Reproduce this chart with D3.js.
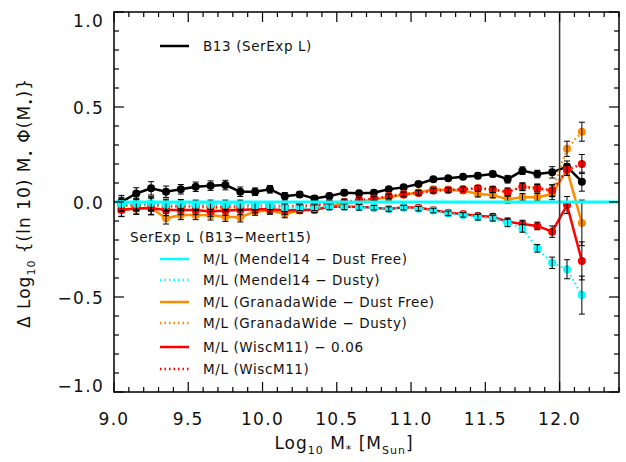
<!DOCTYPE html>
<html>
<head>
<meta charset="utf-8">
<script src="https://cdn.jsdelivr.net/npm/d3@7"></script>
<style>
  body { margin: 0; background: #fff; }
  svg text { font-family: "DejaVu Sans", sans-serif; fill: #111; }
</style>
</head>
<body>
<div id="container"></div>
<script>
const massBins = [9.05, 9.15, 9.25, 9.35, 9.45, 9.55, 9.65, 9.75, 9.85, 9.95, 10.05, 10.15, 10.25, 10.35, 10.45, 10.55,
  10.65, 10.75, 10.85, 10.95, 11.05, 11.15, 11.25, 11.35, 11.45, 11.55, 11.65, 11.75, 11.85, 11.95, 12.05, 12.15];

const b13SerExp = [0.0, 0.045, 0.072, 0.054, 0.067, 0.08, 0.086, 0.089, 0.054, 0.054, 0.067, 0.03, 0.04, 0.019, 0.031, 0.049,
  0.046, 0.049, 0.067, 0.077, 0.095, 0.12, 0.125, 0.133, 0.138, 0.147, 0.12, 0.165, 0.147, 0.156, 0.186, 0.107];
const granadaFree = [-0.04, -0.035, -0.03, -0.086, -0.068, -0.068, -0.07, -0.077, -0.08, -0.05, -0.045, -0.063, -0.045, -0.042, -0.025, -0.007,
  0.0, 0.014, 0.023, 0.04, 0.05, 0.067, 0.063, 0.06, 0.042, 0.037, 0.014, 0.025, 0.025, 0.042, 0.17, -0.11];
const granadaDusty = [-0.02, -0.02, -0.015, -0.03, -0.025, -0.025, -0.03, -0.03, -0.03, -0.03, -0.025, -0.035, -0.03, -0.025, -0.015, -0.005,
  0.005, 0.015, 0.03, 0.04, 0.05, 0.06, 0.065, 0.068, 0.072, 0.067, 0.05, 0.08, 0.075, 0.06, 0.28, 0.37];
const wiscShifted = [-0.042, -0.033, -0.033, -0.042, -0.042, -0.042, -0.05, -0.045, -0.042, -0.038, -0.038, -0.045, -0.042, -0.04, -0.025, -0.025,
  -0.025, -0.03, -0.037, -0.028, -0.03, -0.042, -0.056, -0.063, -0.074, -0.077, -0.104, -0.116, -0.126, -0.156, -0.016, -0.31];
const wisc = [-0.015, -0.015, -0.01, -0.02, -0.02, -0.02, -0.025, -0.022, -0.02, -0.02, -0.018, -0.025, -0.02, -0.018, -0.005, 0.0,
  0.01, 0.018, 0.03, 0.04, 0.048, 0.06, 0.063, 0.067, 0.072, 0.065, 0.054, 0.08, 0.072, 0.06, 0.17, 0.2];
const mendelDusty = [-0.01, -0.01, -0.005, -0.015, -0.012, -0.015, -0.015, -0.015, -0.015, -0.02, -0.02, -0.03, -0.03, -0.03, -0.025, -0.025,
  -0.028, -0.03, -0.037, -0.03, -0.035, -0.045, -0.06, -0.068, -0.08, -0.085, -0.11, -0.139, -0.244, -0.32, -0.354, -0.49];
const mendelFree = 0.0;

// error bars, same bins
const errBase = [0.035, 0.03, 0.035, 0.03, 0.025, 0.025, 0.025, 0.025, 0.025, 0.02, 0.02, 0.02, 0.015, 0.015, 0.015, 0.015,
  0.015, 0.012, 0.012, 0.012, 0.012, 0.012, 0.012, 0.012, 0.015, 0.015, 0.02, 0.02, 0.02, 0.03, 0.03, 0.05];
const errHighEnd = { b13: [0.03, 0.05], granadaFree: [0.03, 0.12], granadaDusty: [0.04, 0.05], wiscShifted: [0.045, 0.1], wisc: [0.03, 0.05], mendelDusty: [0.05, 0.1] };

const xTicks = [9.0, 9.5, 10.0, 10.5, 11.0, 11.5, 12.0];
const xTickLabels = ["9.0", "9.5", "10.0", "10.5", "11.0", "11.5", "12.0"];
const yTicks = [-1.0, -0.5, 0.0, 0.5, 1.0];
const yTickLabels = ["\u22121.0", "\u22120.5", "0.0", "0.5", "1.0"];
const completenessLimit = 12.0;

const W = 626, H = 462;
const margin = { top: 12, right: 7, bottom: 70, left: 114 };
const width = W - margin.left - margin.right;
const height = H - margin.top - margin.bottom;

const svg = d3.select('#container').append('svg')
  .attr('width', W).attr('height', H);
const g = svg.append('g').attr('transform', `translate(${margin.left},${margin.top})`);

const xScale = d3.scaleLinear().domain([9.0, 12.4]).range([0, width]);
const yScale = d3.scaleLinear().domain([-1, 1]).range([height, 0]);

function errFor(key, i) {
  if (i >= 30) return errHighEnd[key][i - 30];
  return errBase[i];
}

const series = [
  { key: 'b13', vals: b13SerExp, color: '#000000', dash: null },
  { key: 'granadaFree', vals: granadaFree, color: '#ff8c00', dash: null },
  { key: 'granadaDusty', vals: granadaDusty, color: '#ff8c00', dash: '1.5,3' },
  { key: 'wiscShifted', vals: wiscShifted, color: '#ff0000', dash: null },
  { key: 'wisc', vals: wisc, color: '#ff0000', dash: '1.5,3' },
  { key: 'mendelDusty', vals: mendelDusty, color: '#00ffff', dash: '1.5,3' }
];

const line = d3.line()
  .x(d => xScale(d.x))
  .y(d => yScale(d.y));

series.forEach(s => {
  const pts = massBins.map((x, i) => ({ x, y: s.vals[i], e: errFor(s.key, i) }));
  g.append('path')
    .datum(pts)
    .attr('fill', 'none')
    .attr('stroke', s.color)
    .attr('stroke-width', 2.5)
    .attr('stroke-dasharray', s.dash)
    .attr('d', line);
  g.selectAll(null).data(pts).enter().append('circle')
    .attr('cx', d => xScale(d.x))
    .attr('cy', d => yScale(d.y))
    .attr('r', 4)
    .attr('fill', s.color);
  const eb = g.selectAll(null).data(pts).enter().append('g').attr('stroke', '#000').attr('stroke-width', 1);
  eb.append('line')
    .attr('x1', d => xScale(d.x)).attr('x2', d => xScale(d.x))
    .attr('y1', d => yScale(d.y - d.e)).attr('y2', d => yScale(d.y + d.e));
  eb.append('line')
    .attr('x1', d => xScale(d.x) - 3).attr('x2', d => xScale(d.x) + 3)
    .attr('y1', d => yScale(d.y - d.e)).attr('y2', d => yScale(d.y - d.e));
  eb.append('line')
    .attr('x1', d => xScale(d.x) - 3).attr('x2', d => xScale(d.x) + 3)
    .attr('y1', d => yScale(d.y + d.e)).attr('y2', d => yScale(d.y + d.e));
});

// reference line (Mendel14 dust free)
g.append('line')
  .attr('x1', 0).attr('x2', width)
  .attr('y1', yScale(mendelFree)).attr('y2', yScale(mendelFree))
  .attr('stroke', '#00ffff').attr('stroke-width', 3);

g.append('line')
  .attr('x1', xScale(completenessLimit)).attr('x2', xScale(completenessLimit))
  .attr('y1', 0).attr('y2', height)
  .attr('stroke', '#333').attr('stroke-width', 1.5);

// frame + ticks on all sides
g.append('rect').attr('width', width).attr('height', height)
  .attr('fill', 'none').attr('stroke', '#000').attr('stroke-width', 1.5);

const xMinor = d3.range(9.0, 12.41, 0.1).map(v => Math.round(v * 10) / 10);
const yMinor = d3.range(-1.0, 1.01, 0.1).map(v => Math.round(v * 10) / 10);
const isMajor = v => Math.abs(v * 2 - Math.round(v * 2)) < 1e-6;

const ticks = g.append('g').attr('stroke', '#000').attr('stroke-width', 1.2);
xMinor.forEach(v => {
  const len = isMajor(v) ? 10 : 5;
  const x = xScale(v);
  ticks.append('line').attr('x1', x).attr('x2', x).attr('y1', height).attr('y2', height - len);
  ticks.append('line').attr('x1', x).attr('x2', x).attr('y1', 0).attr('y2', len);
});
yMinor.forEach(v => {
  const len = isMajor(v) ? 10 : 5;
  const y = yScale(v);
  ticks.append('line').attr('x1', 0).attr('x2', len).attr('y1', y).attr('y2', y);
  ticks.append('line').attr('x1', width).attr('x2', width - len).attr('y1', y).attr('y2', y);
});

g.selectAll('.xlab').data(xTicks).enter().append('text')
  .attr('x', d => xScale(d))
  .attr('y', height + 33)
  .attr('text-anchor', 'middle')
  .style('font-size', '17px')
  .style('letter-spacing', '1.3px')
  .text((d, i) => xTickLabels[i]);

// labels kept inside the frame height, like the original
g.selectAll('.ylab').data(yTicks).enter().append('text')
  .attr('x', -10)
  .attr('y', d => Math.max(15, Math.min(height, yScale(d) + 7)))
  .attr('text-anchor', 'end')
  .style('font-size', '17px')
  .style('letter-spacing', '1.3px')
  .text((d, i) => yTickLabels[i]);

// axis titles
const xt = svg.append('text')
  .attr('x', 344).attr('y', 449)
  .attr('text-anchor', 'middle')
  .style('font-size', '17px').style('letter-spacing', '1px');
xt.append('tspan').text('Log');
xt.append('tspan').attr('dy', 5).style('font-size', '11px').text('10');
xt.append('tspan').attr('dy', -5).text(' M');
xt.append('tspan').attr('dy', 4).style('font-size', '11px').text('*');
xt.append('tspan').attr('dy', -4).text(' [M');
xt.append('tspan').attr('dy', 5).style('font-size', '11px').text('Sun');
xt.append('tspan').attr('dy', -5).text(']');

const yt = svg.append('text')
  .attr('transform', 'translate(30,203) rotate(-90)')
  .attr('text-anchor', 'middle')
  .style('font-size', '17px').style('letter-spacing', '1px');
yt.append('tspan').text('\u0394 Log');
yt.append('tspan').attr('dy', 5).style('font-size', '11px').text('10');
yt.append('tspan').attr('dy', -5).text(' {(ln 10) M');
yt.append('tspan').attr('dy', 4).style('font-size', '11px').text('\u2022');
yt.append('tspan').attr('dy', -4).text(' \u03A6(M');
yt.append('tspan').attr('dy', 4).style('font-size', '11px').text('\u2022');
yt.append('tspan').attr('dy', -4).text(')}');

// legends
const legendTop = [{ label: 'B13 (SerExp L)', color: '#000', dash: null, y: 46 }];
const legendItems = [
  { label: 'M/L (Mendel14 \u2212 Dust Free)', color: '#00ffff', dash: null, y: 259 },
  { label: 'M/L (Mendel14 \u2212 Dusty)', color: '#00ffff', dash: '1.5,3', y: 280 },
  { label: 'M/L (GranadaWide \u2212 Dust Free)', color: '#ff8c00', dash: null, y: 302 },
  { label: 'M/L (GranadaWide \u2212 Dusty)', color: '#ff8c00', dash: '1.5,3', y: 323 },
  { label: 'M/L (WiscM11) \u2212 0.06', color: '#ff0000', dash: null, y: 347 },
  { label: 'M/L (WiscM11)', color: '#ff0000', dash: '1.5,3', y: 369 }
];

svg.append('text').attr('x', 130).attr('y', 242)
  .style('font-size', '13.5px').style('letter-spacing', '0.6px')
  .text('SerExp L (B13\u2212Meert15)');

legendTop.concat(legendItems).forEach(d => {
  svg.append('line')
    .attr('x1', 160).attr('x2', 189).attr('y1', d.y).attr('y2', d.y)
    .attr('stroke', d.color).attr('stroke-width', 2.5)
    .attr('stroke-dasharray', d.dash);
  svg.append('text').attr('x', 203).attr('y', d.y + 5)
    .style('font-size', '13.5px').style('letter-spacing', '0.6px')
    .text(d.label);
});
</script>
</body>
</html>
